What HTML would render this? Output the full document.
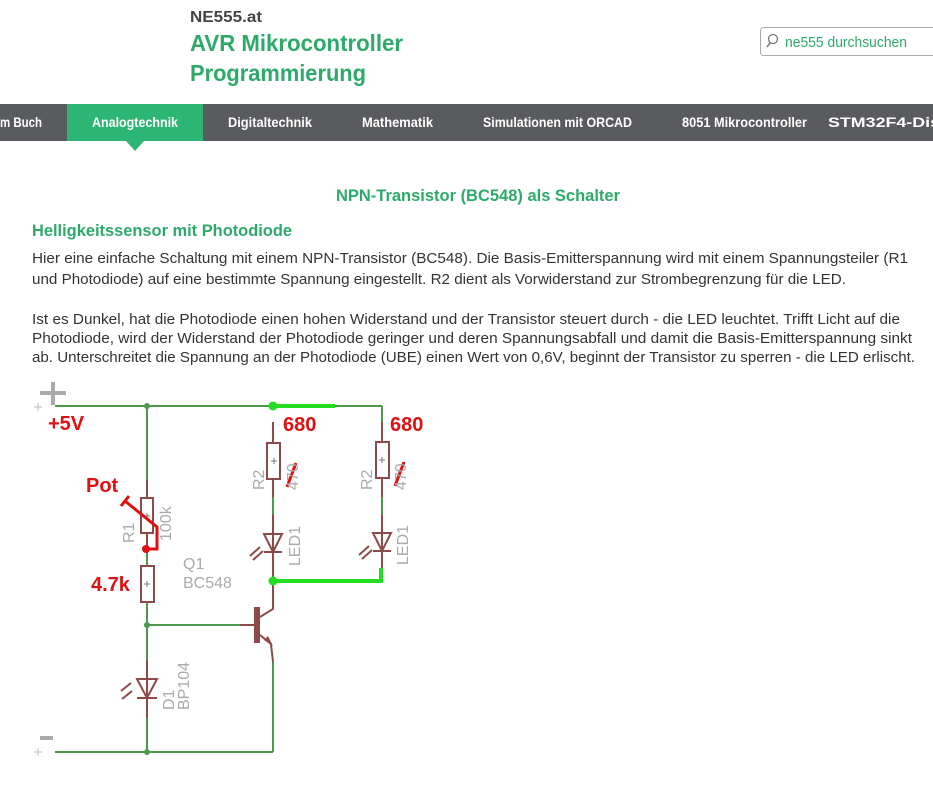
<!DOCTYPE html>
<html><head><meta charset="utf-8"><style>
html,body{margin:0;padding:0;background:#fff;width:933px;height:809px;overflow:hidden}
svg{display:block}
</style></head><body>
<svg width="933" height="809" viewBox="0 0 933 809" xmlns="http://www.w3.org/2000/svg" font-family="Liberation Sans, sans-serif">
<rect width="933" height="809" fill="#fff"/>
<!-- header -->
<text x="190" y="22" font-size="16" font-weight="bold" fill="#444" textLength="72" lengthAdjust="spacingAndGlyphs">NE555.at</text>
<text x="190" y="51" font-size="23" font-weight="bold" fill="#2daa6a" textLength="213" lengthAdjust="spacingAndGlyphs">AVR Mikrocontroller</text>
<text x="190" y="81" font-size="23" font-weight="bold" fill="#2daa6a" textLength="176" lengthAdjust="spacingAndGlyphs">Programmierung</text>
<rect x="760.5" y="27.5" width="190" height="28" rx="3" fill="#fff" stroke="#aaa"/>
<circle cx="773" cy="39" r="4.5" fill="none" stroke="#777" stroke-width="1.3"/>
<line x1="770" y1="43" x2="767" y2="47" stroke="#777" stroke-width="1.6"/>
<text x="785" y="47" font-size="15" fill="#2daa6a" textLength="122" lengthAdjust="spacingAndGlyphs">ne555 durchsuchen</text>
<!-- nav -->
<rect x="0" y="104" width="933" height="37" fill="#5a5b5e"/>
<rect x="67" y="104" width="136" height="37" fill="#2db574"/>
<polygon points="126,141 144,141 135,151" fill="#2db574"/>
<g font-size="14" font-weight="bold" fill="#fff">
<text x="0" y="127" textLength="42" lengthAdjust="spacingAndGlyphs">m Buch</text>
<text x="92" y="127" textLength="86" lengthAdjust="spacingAndGlyphs">Analogtechnik</text>
<text x="228" y="127" textLength="84" lengthAdjust="spacingAndGlyphs">Digitaltechnik</text>
<text x="362" y="127" textLength="71" lengthAdjust="spacingAndGlyphs">Mathematik</text>
<text x="483" y="127" textLength="149" lengthAdjust="spacingAndGlyphs">Simulationen mit ORCAD</text>
<text x="682" y="127" textLength="125" lengthAdjust="spacingAndGlyphs">8051 Mikrocontroller</text>
<text x="828" y="127" textLength="112" lengthAdjust="spacingAndGlyphs">STM32F4-Dis</text>
</g>
<!-- titles -->
<text x="336" y="201" font-size="17" font-weight="bold" fill="#2daa6a" textLength="284" lengthAdjust="spacingAndGlyphs">NPN-Transistor (BC548) als Schalter</text>
<text x="32" y="236" font-size="17" font-weight="bold" fill="#2daa6a" textLength="260" lengthAdjust="spacingAndGlyphs">Helligkeitssensor mit Photodiode</text>
<g font-size="15" fill="#333">
<text x="32" y="263" textLength="876" lengthAdjust="spacingAndGlyphs">Hier eine einfache Schaltung mit einem NPN-Transistor (BC548). Die Basis-Emitterspannung wird mit einem Spannungsteiler (R1</text>
<text x="32" y="284" textLength="814" lengthAdjust="spacingAndGlyphs">und Photodiode) auf eine bestimmte Spannung eingestellt. R2 dient als Vorwiderstand zur Strombegrenzung für die LED.</text>
<text x="32" y="324" textLength="868" lengthAdjust="spacingAndGlyphs">Ist es Dunkel, hat die Photodiode einen hohen Widerstand und der Transistor steuert durch - die LED leuchtet. Trifft Licht auf die</text>
<text x="32" y="343" textLength="880" lengthAdjust="spacingAndGlyphs">Photodiode, wird der Widerstand der Photodiode geringer und deren Spannungsabfall und damit die Basis-Emitterspannung sinkt</text>
<text x="32" y="362" textLength="883" lengthAdjust="spacingAndGlyphs">ab. Unterschreitet die Spannung an der Photodiode (UBE) einen Wert von 0,6V, beginnt der Transistor zu sperren - die LED erlischt.</text>
</g>
<!-- circuit -->
<g stroke-linecap="butt" fill="none">
<line x1="40" y1="393" x2="66" y2="393" stroke="#aaa" stroke-width="4"/>
<line x1="53" y1="382" x2="53" y2="405" stroke="#aaa" stroke-width="4"/>
<line x1="40" y1="738" x2="53" y2="738" stroke="#aaa" stroke-width="4"/>
<g stroke="#4a9a4a" stroke-width="2">
<line x1="55" y1="406" x2="382" y2="406"/>
<line x1="382" y1="406" x2="382" y2="422"/>
<line x1="147" y1="406" x2="147" y2="480"/>
<line x1="147" y1="553" x2="147" y2="565"/>
<line x1="147" y1="602" x2="147" y2="660"/>
<line x1="147" y1="625" x2="240" y2="625"/>
<line x1="147" y1="718" x2="147" y2="752"/>
<line x1="55" y1="752" x2="273" y2="752"/>
<line x1="273" y1="662" x2="273" y2="752"/>
<line x1="273" y1="497" x2="273" y2="515"/>
<line x1="382" y1="497" x2="382" y2="515"/>
</g>
<g stroke="#22dd22" stroke-width="4">
<line x1="273" y1="406" x2="335" y2="406"/>
<polyline points="273,581 326,581 381,581 381,568"/>
</g>
<g stroke="#8c4a4a" stroke-width="2">
<line x1="147" y1="480" x2="147" y2="498"/>
<line x1="147" y1="533" x2="147" y2="553"/>
<rect x="141" y="498" width="12" height="35"/>
<rect x="141" y="566" width="13" height="36"/>
<line x1="147" y1="660" x2="147" y2="718"/>
<polygon points="137,679 157,679 147,698"/>
<line x1="137" y1="698" x2="157" y2="698"/>
<line x1="273" y1="422" x2="273" y2="443"/>
<line x1="273" y1="479" x2="273" y2="497"/>
<rect x="267" y="443" width="13" height="36"/>
<line x1="273" y1="515" x2="273" y2="581"/>
<polygon points="264,534 282,534 273,552"/>
<line x1="264" y1="552" x2="282" y2="552"/>
<line x1="382" y1="422" x2="382" y2="442"/>
<line x1="382" y1="478" x2="382" y2="497"/>
<rect x="376" y="442" width="13" height="36"/>
<line x1="382" y1="515" x2="382" y2="568"/>
<polygon points="373,533 391,533 382,551"/>
<line x1="373" y1="551" x2="391" y2="551"/>
<line x1="240" y1="625" x2="255" y2="625"/>
<polyline points="260,617 273,609 273,581"/>
<polyline points="260,635 271,644 273,662"/>
</g>
<rect x="254" y="607" width="6" height="36" fill="#8c4a4a"/>
<polygon points="273,646 264,640 268,636" fill="#8c4a4a"/>
<g stroke="#8c4a4a" stroke-width="2">
<line x1="121" y1="691" x2="131" y2="683"/><line x1="122" y1="699" x2="132" y2="691"/>
<line x1="250" y1="556" x2="260" y2="547"/><line x1="253" y1="560" x2="263" y2="551"/>
<line x1="359" y1="555" x2="369" y2="546"/><line x1="362" y1="559" x2="372" y2="550"/>
</g>
<g stroke="#777" stroke-width="1">
<line x1="144" y1="516" x2="150" y2="516"/><line x1="147" y1="513" x2="147" y2="519"/>
<line x1="144" y1="584" x2="150" y2="584"/><line x1="147" y1="581" x2="147" y2="587"/>
<line x1="271" y1="461" x2="277" y2="461"/><line x1="274" y1="458" x2="274" y2="464"/>
<line x1="379" y1="460" x2="385" y2="460"/><line x1="382" y1="457" x2="382" y2="463"/>
</g>
<g stroke="#bbb" stroke-width="1">
<line x1="34" y1="407" x2="42" y2="407"/><line x1="38" y1="403" x2="38" y2="411"/>
<line x1="34" y1="752" x2="42" y2="752"/><line x1="38" y1="748" x2="38" y2="756"/>
</g>
<circle cx="147" cy="406" r="3" fill="#4a9a4a" stroke="none"/>
<circle cx="147" cy="625" r="3" fill="#4a9a4a" stroke="none"/>
<circle cx="147" cy="752" r="3" fill="#4a9a4a" stroke="none"/>
<circle cx="273" cy="406" r="4.5" fill="#22dd22" stroke="none"/>
<circle cx="273" cy="581" r="4.5" fill="#22dd22" stroke="none"/>
<g stroke="#e01010" stroke-width="3">
<line x1="121" y1="506" x2="129" y2="496"/>
<polyline points="125,501 157,527 157,549 146,549"/>
<line x1="287" y1="487" x2="296" y2="463"/>
<line x1="395" y1="486" x2="404" y2="462"/>
</g>
<circle cx="146" cy="549" r="4" fill="#e01010"/>
</g>
<g font-size="16" fill="#aaa">
<text x="183" y="569">Q1</text>
<text x="183" y="588">BC548</text>
<text transform="translate(134,543) rotate(-90)">R1</text>
<text transform="translate(171,541) rotate(-90)">100k</text>
<text transform="translate(264,490) rotate(-90)">R2</text>
<text transform="translate(298,490) rotate(-90)">470</text>
<text transform="translate(372,490) rotate(-90)">R2</text>
<text transform="translate(406,490) rotate(-90)">470</text>
<text transform="translate(300,566) rotate(-90)">LED1</text>
<text transform="translate(408,565) rotate(-90)">LED1</text>
<text transform="translate(174,710) rotate(-90)">D1</text>
<text transform="translate(189,710) rotate(-90)">BP104</text>
</g>
<g font-size="20" font-weight="bold" fill="#e01010">
<text x="48" y="430">+5V</text>
<text x="283" y="431">680</text>
<text x="390" y="431">680</text>
<text x="86" y="492">Pot</text>
<text x="91" y="591">4.7k</text>
</g>
</svg>
</body></html>
